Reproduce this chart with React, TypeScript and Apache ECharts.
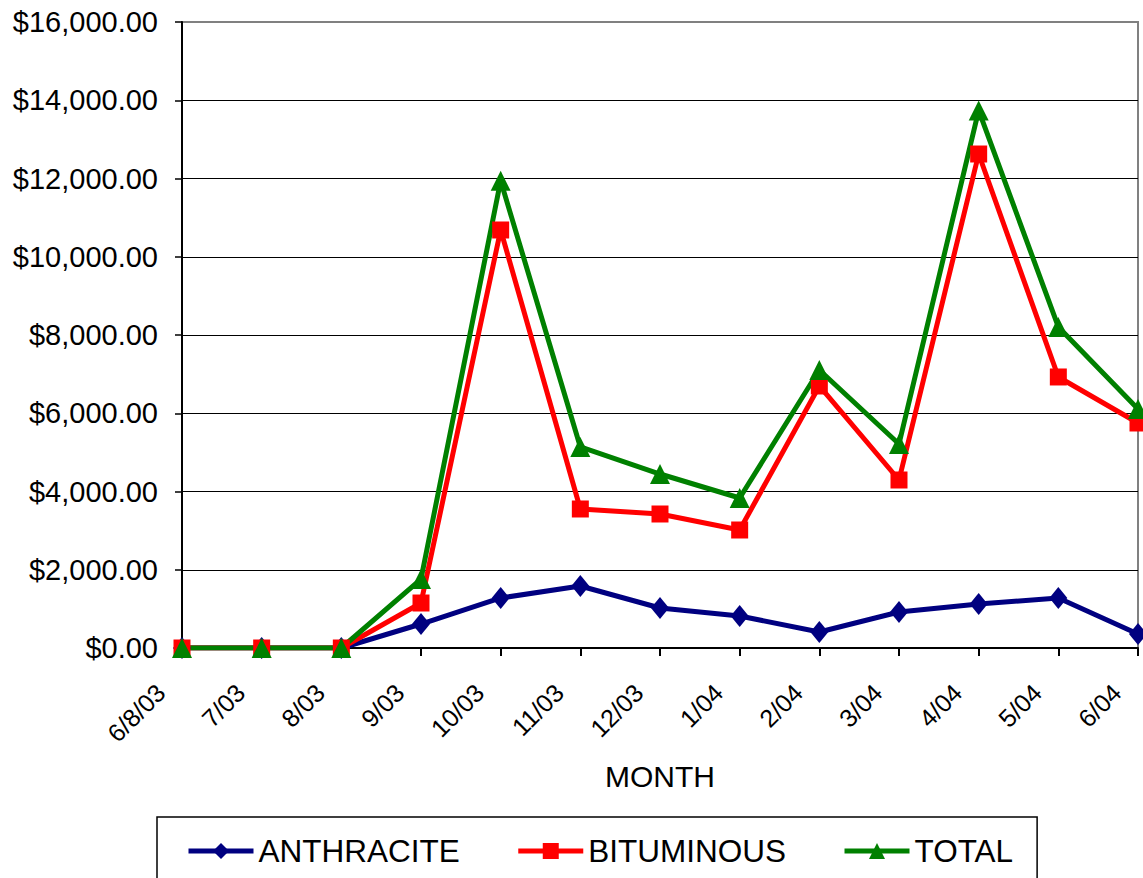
import React, { useEffect, useRef } from "react";
import * as echarts from "echarts";

const months = ["6/8/03", "7/03", "8/03", "9/03", "10/03", "11/03", "12/03", "1/04", "2/04", "3/04", "4/04", "5/04", "6/04"];
const anthracite = [0, 0, 0, 613, 1278, 1585, 1022, 818, 409, 920, 1125, 1278, 358];
const bituminous = [0, 0, 0, 1150, 10684, 3553, 3425, 3016, 6697, 4294, 12626, 6927, 5751];
const total = [0, 0, 0, 1763, 11940, 5138, 4447, 3834, 7106, 5214, 13740, 8205, 6109];

const FONT = "'Liberation Sans', Arial, sans-serif";

export default function App() {
  const ref = useRef<HTMLDivElement>(null);
  useEffect(() => {
    document.body.style.margin = "0";
    const chart = echarts.init(ref.current!, null, { renderer: "svg" });
    const fmt = (v: number) =>
      "$" + v.toLocaleString("en-US", { minimumFractionDigits: 2, maximumFractionDigits: 2 });
    chart.setOption({
      animation: false,
      backgroundColor: "#ffffff",
      textStyle: { fontFamily: FONT },
      grid: {
        left: 182,
        right: 5,
        top: 22,
        bottom: 230,
        show: true,
        borderColor: "#808080",
        borderWidth: 2,
        backgroundColor: "transparent",
      },
      legend: {
        left: 157,
        top: 817,
        orient: "horizontal",
        data: ["ANTHRACITE", "BITUMINOUS", "TOTAL"],
        borderColor: "#000",
        borderWidth: 1.5,
        padding: [18, 24, 40, 29],
        itemGap: 56,
        itemWidth: 65,
        itemHeight: 20,
        lineStyle: { width: 5 },
        textStyle: { fontSize: 31.5, color: "#000", fontFamily: FONT },
      },
      xAxis: {
        type: "category",
        data: months,
        boundaryGap: false,
        name: "MONTH",
        nameLocation: "middle",
        nameGap: 113,
        nameTextStyle: { fontSize: 30, color: "#000", fontFamily: FONT },
        axisLine: { lineStyle: { color: "#000", width: 2 } },
        axisTick: { show: true, length: 8, lineStyle: { color: "#000", width: 2 } },
        axisLabel: {
          rotate: 45,
          interval: 0,
          fontSize: 25,
          color: "#000",
          fontFamily: FONT,
          margin: 19,
          padding: [0, 30, 0, 0],
        },
        splitLine: { show: false },
      },
      yAxis: {
        type: "value",
        min: 0,
        max: 16000,
        interval: 2000,
        axisLine: { show: true, lineStyle: { color: "#000", width: 2 } },
        axisTick: { show: true, length: 7, lineStyle: { color: "#000", width: 1.5 } },
        axisLabel: { formatter: fmt, fontSize: 29, color: "#000", fontFamily: FONT, margin: 24 },
        splitLine: { show: true, showMaxLine: false, showMinLine: false, lineStyle: { color: "#000", width: 1 } },
      },
      series: [
        {
          name: "ANTHRACITE",
          type: "line",
          data: anthracite,
          symbol: "diamond",
          symbolSize: [18, 22],
          color: "#000080",
          lineStyle: { width: 5, color: "#000080" },
          itemStyle: { color: "#000080" },
        },
        {
          name: "BITUMINOUS",
          type: "line",
          data: bituminous,
          symbol: "rect",
          symbolSize: 17,
          color: "#ff0000",
          lineStyle: { width: 5, color: "#ff0000" },
          itemStyle: { color: "#ff0000" },
        },
        {
          name: "TOTAL",
          type: "line",
          data: total,
          symbol: "triangle",
          symbolSize: 20,
          color: "#008000",
          lineStyle: { width: 5, color: "#008000" },
          itemStyle: { color: "#008000" },
        },
      ],
    });
    return () => chart.dispose();
  }, []);
  return <div ref={ref} style={{ width: 1143, height: 878 }} />;
}
